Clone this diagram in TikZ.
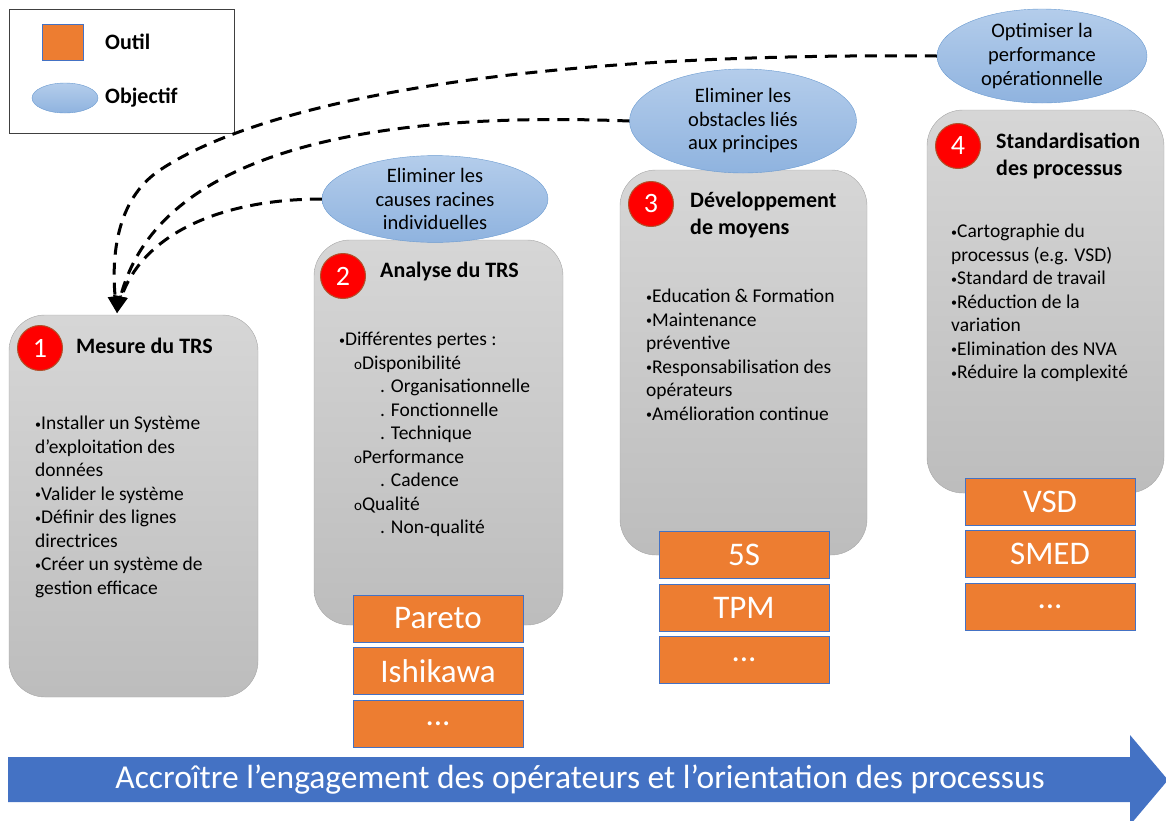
\documentclass[tikz,border=0pt]{standalone}
\usepackage{fontspec}
\setmainfont{Carlito}
\usetikzlibrary{arrows,shapes.geometric}

\definecolor{orangeoutil}{HTML}{ED7D31}
\definecolor{bleubord}{HTML}{4472C4}
\definecolor{bleuhaut}{HTML}{B4CDEB}
\definecolor{bleubas}{HTML}{8FB3DF}
\definecolor{bleutrait}{HTML}{6A9AD0}
\definecolor{rougenum}{HTML}{FF0000}
\definecolor{bordnum}{HTML}{B0502A}

\newcommand{\puce}{{\fontsize{12}{12}\selectfont\raisebox{1.5pt}{•}}}
\newcommand{\rond}{{\fontsize{15}{15}\selectfont o}}

\begin{document}
\begin{tikzpicture}[x=1pt,y=-1pt,>=triangle 45,
    etape/.style={draw=black!35,rounded corners=36pt,top color=black!16,bottom color=black!26,inner sep=0pt},
    objectif/.style={ellipse,draw=bleutrait,top color=bleuhaut,bottom color=bleubas,inner sep=0pt,align=center,
      font=\fontsize{20.5}{23.5}\selectfont},
    outil/.style={fill=orangeoutil,draw=bleubord,line width=1pt,minimum width=170pt,minimum height=47pt,inner sep=0pt,
      text=white,font=\fontsize{33}{36}\selectfont},
    numero/.style={circle,fill=rougenum,draw=bordnum,line width=1pt,minimum size=45pt,inner sep=0pt,text=white,
      font=\fontsize{28}{30}\selectfont},
    titre/.style={anchor=west,align=left,inner sep=0pt,font=\bfseries\fontsize{22}{27}\selectfont},
    texte/.style={anchor=north west,align=left,inner sep=0pt,font=\fontsize{19.5}{23.5}\selectfont},
    lien/.style={->,dash pattern=on 12pt off 8pt,line width=3pt}]
  \useasboundingbox (0,0) rectangle (1166,820);

  % legende
  \node[draw=black!75,line width=1pt,minimum width=225pt,minimum height=124pt,inner sep=0pt] (legende) at (121.5,71) {};
  \node[outil,minimum width=41pt,minimum height=36pt] (legoutil) at (62.5,42.5) {};
  \node[objectif,minimum width=66pt,minimum height=30pt] (legobj) at (65,98) {};
  \node[titre] (txtoutil) at (105,42) {Outil};
  \node[titre] (txtobj) at (105,98) {Objectif};

  % etapes
  \node[etape,minimum width=249pt,minimum height=382pt] (etape1) at (133.5,506) {};
  \node[etape,minimum width=249pt,minimum height=385pt] (etape2) at (438.5,432.5) {};
  \node[etape,minimum width=247pt,minimum height=385pt] (etape3) at (743.5,362.5) {};
  \node[etape,minimum width=237pt,minimum height=383pt] (etape4) at (1045.5,301.5) {};

  \node[numero] (num1) at (40,348) {1};
  \node[numero] (num2) at (343,276) {2};
  \node[numero] (num3) at (651,204) {3};
  \node[numero] (num4) at (958,146) {4};

  \node[titre] (titre1) at (76,346) {Mesure du TRS};
  \node[titre] (titre2) at (380,272) {Analyse du TRS};
  \node[titre] (titre3) at (690,215) {Développement\\de moyens};
  \node[titre] (titre4) at (996,155.5) {Standardisation\\des processus};

  \node[texte] (texte1) at (35,416) {\puce Installer un Système\\d’exploitation des\\données\\\puce Valider le système\\\puce Définir des lignes\\directrices\\\puce Créer un système de\\gestion efficace};
  \node[texte] (texte2) at (339,332) {\puce Différentes pertes :\\
    \hspace*{15pt}\rond Disponibilité\\
    \hspace*{41pt}. Organisationnelle\\
    \hspace*{41pt}. Fonctionnelle\\
    \hspace*{41pt}. Technique\\
    \hspace*{15pt}\rond Performance\\
    \hspace*{41pt}. Cadence\\
    \hspace*{15pt}\rond Qualité\\
    \hspace*{41pt}. Non-qualité};
  \node[texte] (texte3) at (646,289) {\puce Education \& Formation\\\puce Maintenance\\préventive\\\puce Responsabilisation des\\opérateurs\\\puce Amélioration continue};
  \node[texte] (texte4) at (951,224) {\puce Cartographie du\\processus (e.g. VSD)\\\puce Standard de travail\\\puce Réduction de la\\variation\\\puce Elimination des NVA\\\puce Réduire la complexité};

  % objectifs
  \node[objectif,minimum width=226pt,minimum height=85pt] (obj2) at (435,199) {Eliminer les\\causes racines\\individuelles};
  \node[objectif,minimum width=227pt,minimum height=104pt] (obj3) at (743,121) {Eliminer les\\obstacles liés\\aux principes};
  \node[objectif,minimum width=210pt,minimum height=94pt,font=\fontsize{20.5}{24}\selectfont] (obj4) at (1042,56) {Optimiser la\\performance\\opérationnelle};

  % outils
  \node[outil] (pareto) at (438,618.5) {Pareto};
  \node[outil] (ishikawa) at (438,671) {Ishikawa};
  \node[outil] (autre2) at (438,723.5) {...};
  \node[outil] (cinqs) at (744,555) {5S};
  \node[outil] (tpm) at (744,607.5) {TPM};
  \node[outil] (autre3) at (744,659.5) {...};
  \node[outil] (vsd) at (1050,502) {VSD};
  \node[outil] (smed) at (1050,554) {SMED};
  \node[outil] (autre4) at (1050,606.5) {...};

  % retours vers la mesure
  \coordinate (cible) at (117,313);
  \draw[lien] (obj2.west) .. controls (220,199) and (135,235) .. (cible); % 2 -> 1
  \draw[lien] (obj3.west) .. controls (400,112) and (150,140) .. (cible); % 3 -> 1
  \draw[lien] (obj4.west) .. controls (480,52) and (250,110) .. (160,170)
    .. controls (115,200) and (110,260) .. (cible); % 4 -> 1

  % fleche du bas
  \fill[bleubord] (8,757) -- (1130,757) -- (1130,735) -- (1168,780) -- (1130,825) -- (1130,802) -- (8,802) -- cycle;
  \node[text=white,inner sep=0pt,font=\fontsize{33.5}{36}\selectfont] (engagement) at (580,780)
    {Accroître l’engagement des opérateurs et l’orientation des processus};
\end{tikzpicture}
\end{document}
